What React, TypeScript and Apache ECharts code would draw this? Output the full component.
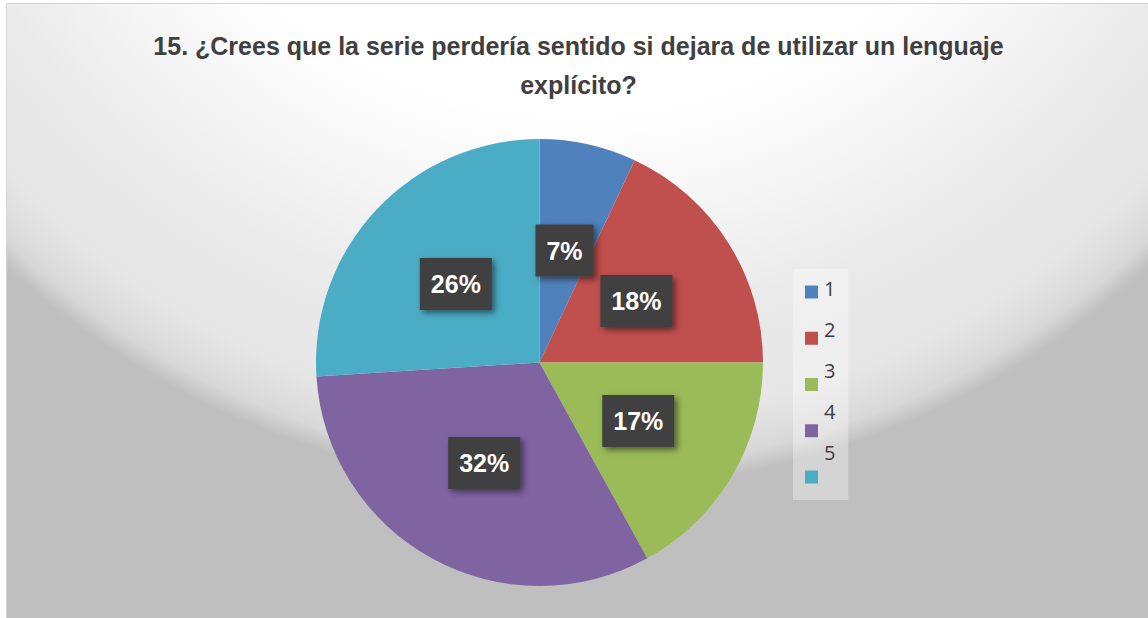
import React, { useEffect, useRef } from "react";
import * as echarts from "echarts";

const categories = ["1", "2", "3", "4", "5"];
const values = [7, 18, 17, 32, 26];
const colors = ["#4f81bd", "#c0504d", "#9bbb59", "#8064a2", "#4bacc6"];
const titleText =
  "15. ¿Crees que la serie perdería sentido si dejara de utilizar un lenguaje\nexplícito?";

export default function App() {
  const ref = useRef<HTMLDivElement>(null);
  useEffect(() => {
    if (!ref.current) return;
    const chart = echarts.init(ref.current, null, { renderer: "svg" });
    const bgGrad = new echarts.graphic.RadialGradient(
      577,
      -354,
      844,
      [
        { offset: 0, color: "#ffffff" },
        { offset: 0.55, color: "#ffffff" },
        { offset: 0.68, color: "#f5f5f5" },
        { offset: 0.8, color: "#eaeaea" },
        { offset: 0.92, color: "#e6e6e6" },
        { offset: 0.975, color: "#d8d8d8" },
        { offset: 1, color: "#bfbfbf" },
      ],
      true
    );
    const data = categories.map((c, i) => ({
      name: c,
      value: values[i],
      itemStyle: { color: colors[i] },
    }));
    chart.setOption({
      animation: false,
      graphic: [
        {
          type: "rect",
          z: -10,
          silent: true,
          shape: { x: 6.5, y: 3.5, width: 1142, height: 615 },
          style: { fill: bgGrad, stroke: "#d4d4d4", lineWidth: 1 },
        },
      ],
      title: {
        text: titleText,
        left: 573.5,
        top: 21,
        textAlign: "center",
        textStyle: {
          fontFamily: "Liberation Sans, Arial, sans-serif",
          fontSize: 25,
          fontWeight: "bold",
          color: "#404040",
          lineHeight: 39,
        },
      },
      legend: [
        {
          orient: "vertical",
          left: 793,
          top: 269,
          padding: [16.5, 25, 16.5, 12],
          backgroundColor: "rgba(255,255,255,0.33)",
          itemWidth: 13,
          itemHeight: 13,
          itemGap: 33.25,
          icon: "rect",
          selectedMode: false,
          data: categories,
          formatter: () => " ",
          textStyle: { fontSize: 1, lineHeight: 1 },
        },
        {
          orient: "vertical",
          left: 818,
          top: 278,
          padding: 0,
          itemWidth: 1,
          itemHeight: 20,
          itemGap: 21,
          icon: "rect",
          selectedMode: false,
          data: categories,
          itemStyle: { opacity: 0 },
          textStyle: {
            fontFamily: "Open Sans, sans-serif",
            fontSize: 20,
            lineHeight: 20,
            color: "#404040",
          },
        },
      ],
      series: [
        {
          type: "pie",
          center: [539.5, 362.5],
          radius: 223.5,
          startAngle: 90,
          clockwise: true,
          data,
          emphasis: { disabled: true },
          labelLine: { show: false },
          label: {
            show: true,
            position: "inside",
            formatter: (p: any) => Math.round(p.percent) + "%",
            fontFamily: "Liberation Sans, Arial, sans-serif",
            fontSize: 25,
            fontWeight: "bold",
            color: "#ffffff",
            backgroundColor: "#404040",
            padding: [14, 11, 13, 11],
            shadowColor: "rgba(0,0,0,0.5)",
            shadowBlur: 6,
            shadowOffsetX: 3,
            shadowOffsetY: 3,
          },
        },
      ],
    });
    return () => chart.dispose();
  }, []);
  return (
    <div
      ref={ref}
      style={{ position: "absolute", left: 0, top: 0, width: 1148, height: 618 }}
    />
  );
}
